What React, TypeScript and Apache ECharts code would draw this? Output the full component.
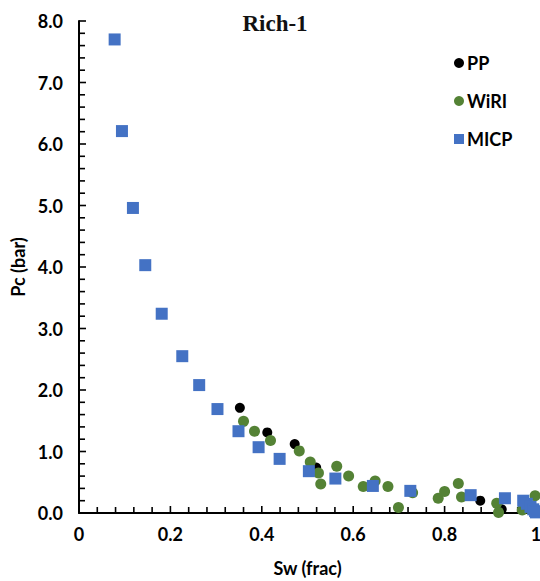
import React, { useEffect, useRef } from "react";
import * as echarts from "echarts";

const ppData: number[][] = [
  [0.352, 1.71], [0.412, 1.31], [0.472, 1.12], [0.519, 0.74], [0.878, 0.2], [0.925, 0.06],
];

const wiriData: number[][] = [
  [0.36, 1.49], [0.384, 1.33], [0.419, 1.18], [0.482, 1.01], [0.506, 0.83], [0.524, 0.65],
  [0.529, 0.47], [0.564, 0.76], [0.59, 0.6], [0.622, 0.43], [0.648, 0.52], [0.676, 0.43],
  [0.699, 0.09], [0.73, 0.33], [0.786, 0.24], [0.8, 0.35], [0.83, 0.48], [0.837, 0.26],
  [0.914, 0.16], [0.918, 0.01], [0.97, 0.05], [0.99, 0.05], [0.998, 0.28],
];

const micpData: number[][] = [
  [0.078, 7.7], [0.094, 6.21], [0.118, 4.96], [0.145, 4.03], [0.181, 3.24], [0.226, 2.55],
  [0.263, 2.08], [0.303, 1.69], [0.349, 1.33], [0.393, 1.07], [0.439, 0.88], [0.503, 0.68],
  [0.561, 0.56], [0.643, 0.44], [0.725, 0.36], [0.857, 0.29], [0.932, 0.24], [0.972, 0.2],
  [0.98, 0.15], [0.988, 0.1], [0.994, 0.06], [0.998, 0.03], [1.0, 0.01],
];

const seriesNames = ["PP", "WiRI", "MICP"];
const title = "Rich-1";
const xName = "Sw (frac)";
const yName = "Pc (bar)";

const X_MAX = 1;
const X_MAJOR = 0.2;
const X_MINOR_COUNT = 25; // minor tick every 0.04
const Y_MAX = 8;
const Y_MAJOR = 1;
const Y_MINOR_COUNT = 40; // minor tick every 0.2

export default function App() {
  const ref = useRef<HTMLDivElement>(null);
  useEffect(() => {
    if (!ref.current) return;
    const chart = echarts.init(ref.current, null, { renderer: "svg" });
    const labelFont = { fontFamily: "Lato", fontWeight: "bold" as const, fontSize: 18, color: "#000" };

    const xTicks: number[][] = [];
    for (let i = 0; i <= X_MINOR_COUNT; i++) {
      const v = (i * X_MAX) / X_MINOR_COUNT;
      xTicks.push([v, 0, i % 5 === 0 ? 1 : 0]);
    }
    const yTicks: number[][] = [];
    for (let i = 0; i <= Y_MINOR_COUNT; i++) {
      const v = (i * Y_MAX) / Y_MINOR_COUNT;
      yTicks.push([0, v, i % 5 === 0 ? 1 : 0]);
    }

    chart.setOption({
      animation: false,
      backgroundColor: "#fff",
      title: {
        text: title,
        left: 270,
        top: 7,
        textAlign: "center",
        textStyle: { fontFamily: "Liberation Serif", fontWeight: "bold", fontSize: 23, color: "#111" },
      },
      legend: {
        orient: "vertical",
        left: 449,
        top: 49,
        itemGap: 20,
        itemWidth: 10,
        itemHeight: 10,
        textStyle: { fontFamily: "Lato", fontWeight: "bold", fontSize: 18, color: "#000", padding: [0, 0, 0, -2] },
        data: seriesNames,
      },
      grid: { left: 79, right: 4, top: 21, bottom: 68, outerBoundsMode: "none" },
      xAxis: {
        type: "value",
        min: 0,
        max: X_MAX,
        interval: X_MAJOR,
        name: xName,
        nameLocation: "middle",
        nameGap: 46,
        nameTextStyle: labelFont,
        axisLine: { show: true, lineStyle: { color: "#000", width: 2 } },
        axisTick: { show: false },
        minorTick: { show: false },
        axisLabel: {
          ...labelFont,
          margin: 12,
          formatter: (v: number) => (v === 0 || v === 1 ? String(v) : v.toFixed(1)),
        },
        splitLine: { show: false },
      },
      yAxis: {
        type: "value",
        min: 0,
        max: Y_MAX,
        interval: Y_MAJOR,
        name: yName,
        nameLocation: "middle",
        nameGap: 50,
        nameTextStyle: labelFont,
        axisLine: { show: true, lineStyle: { color: "#000", width: 2 } },
        axisTick: { show: false },
        minorTick: { show: false },
        axisLabel: { ...labelFont, margin: 16, formatter: (v: number) => v.toFixed(1) },
        splitLine: { show: false },
      },
      series: [
        {
          name: "xTicks",
          type: "custom",
          silent: true,
          clip: false,
          z: 1,
          data: xTicks,
          renderItem: (_p: any, api: any) => {
            const pt = api.coord([api.value(0), 0]);
            const len = api.value(2) ? 7 : 6;
            return {
              type: "line",
              shape: { x1: pt[0], y1: pt[1], x2: pt[0], y2: pt[1] - len },
              style: { stroke: "#000", lineWidth: 1.6 },
            };
          },
        },
        {
          name: "yTicks",
          type: "custom",
          silent: true,
          clip: false,
          z: 1,
          data: yTicks,
          renderItem: (_p: any, api: any) => {
            const pt = api.coord([0, api.value(1)]);
            const len = api.value(2) ? 7 : 6;
            return {
              type: "line",
              shape: { x1: pt[0], y1: pt[1], x2: pt[0] + len, y2: pt[1] },
              style: { stroke: "#000", lineWidth: 1.6 },
            };
          },
        },
        {
          name: "PP",
          type: "scatter",
          data: ppData,
          symbol: "circle",
          symbolSize: 10,
          itemStyle: { color: "#000000", opacity: 1 },
          clip: false,
          z: 3,
        },
        {
          name: "WiRI",
          type: "scatter",
          data: wiriData,
          symbol: "circle",
          symbolSize: 11,
          itemStyle: { color: "#548235", opacity: 1 },
          clip: false,
          z: 4,
        },
        {
          name: "MICP",
          type: "scatter",
          data: micpData,
          symbol: "rect",
          symbolSize: 12,
          itemStyle: { color: "#4472C4", opacity: 1 },
          clip: false,
          z: 5,
        },
      ],
    });
    return () => chart.dispose();
  }, []);
  return <div ref={ref} style={{ width: 540, height: 581, position: "absolute", left: 0, top: 0 }} />;
}
